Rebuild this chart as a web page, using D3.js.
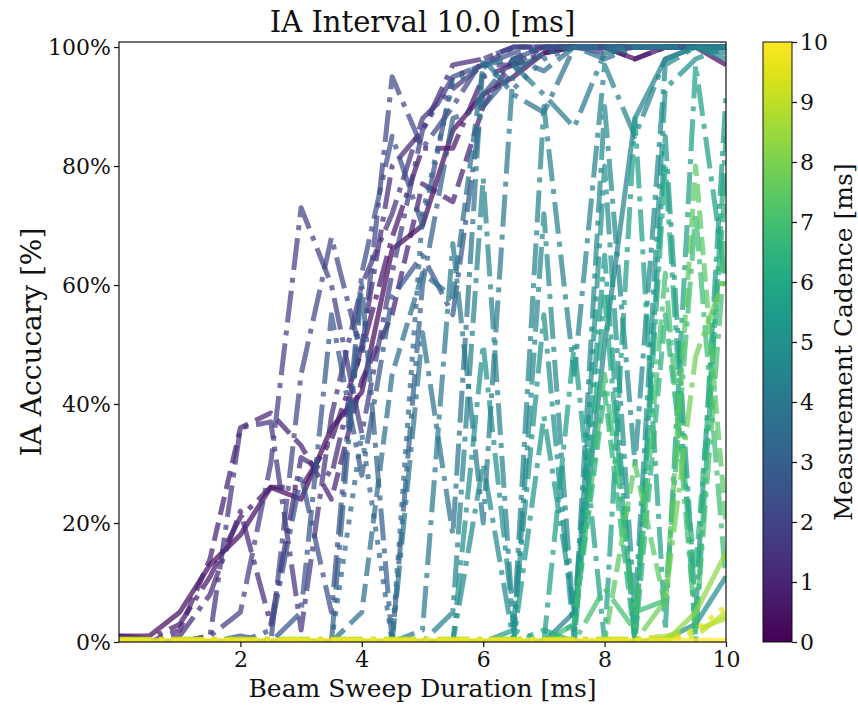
<!DOCTYPE html>
<html>
<head>
<meta charset="utf-8">
<script src="https://cdn.jsdelivr.net/npm/d3@7"></script>
<style>
  body { margin: 0; background: #fff; }
  text { font-family: "DejaVu Serif", serif; fill: #111; }
</style>
</head>
<body>
<div id="chart"></div>
<script>
// beam sweep duration grid [ms]
var beamSweep = [0, 0.5, 1, 1.5, 2, 2.5, 3, 3.5, 4, 4.5, 5, 5.5, 6, 6.5, 7, 7.5, 8, 8.5, 9, 9.5, 10];

// measurement cadence of each run [ms] (colour) and its line style
var cadence   = [0.3, 0.6, 0.9, 1.2, 1.5, 1.8, 2.1, 2.4, 2.7, 3.0, 3.3, 3.6, 3.8, 4.1, 4.4, 4.5, 4.7, 4.9, 5.0, 5.3, 5.6, 6.0, 6.4, 6.8, 7.0, 7.4, 7.8, 8.3, 8.8, 9.0, 9.5, 10];
var lineStyle = ["-", "-.", "--", "-.", "-.", "-.", "-.", "-.", "-.", "-.", ":", "--", "-.", "-.", "-.", "-", "-.", "-", "-.", "-.", "-.", "-.", "--", "-.", "-.", "--", "-.", "-", "-.", "-.", ":", "-"];

// IA accuracy (0..1), one row per run, values along beamSweep
var accuracy = [
  [0.01, 0.01, 0.05, 0.13, 0.18, 0.26, 0.24, 0.36, 0.42, 0.66, 0.70, 0.86, 0.92, 0.95, 0.99, 1.00, 1.00, 0.98, 1.00, 1.00, 0.97],
  [0.01, 0.005, 0.03, 0.11, 0.21, 0.26, 0.26, 0.34, 0.49, 0.68, 0.83, 0.83, 0.95, 0.97, 0.99, 1.00, 1.00, 1.00, 1.00, 1.00, 1.00],
  [0, 0, 0.02, 0.14, 0.36, 0.385, 0.33, 0.24, 0.44, 0.55, 0.77, 0.74, 0.90, 0.98, 1.00, 1.00, 1.00, 0.98, 1.00, 1.00, 1.00],
  [0, 0, 0.01, 0.08, 0.22, 0.03, 0.31, 0.28, 0.50, 0.80, 0.86, 0.97, 0.98, 1.00, 1.00, 1.00, 1.00, 1.00, 1.00, 1.00, 1.00],
  [0, 0, 0, 0.01, 0.36, 0.37, 0.02, 0.38, 0.60, 0.72, 0.88, 0.93, 0.97, 0.97, 1.00, 1.00, 1.00, 1.00, 1.00, 1.00, 1.00],
  [0, 0, 0, 0.01, 0.05, 0.30, 0.73, 0.60, 0.35, 0.62, 0.86, 0.95, 0.97, 1.00, 1.00, 1.00, 0.99, 1.00, 1.00, 1.00, 1.00],
  [0, 0, 0, 0, 0.01, 0.00, 0.45, 0.68, 0.48, 0.95, 0.83, 0.90, 0.98, 1.00, 1.00, 1.00, 1.00, 1.00, 1.00, 1.00, 1.00],
  [0, 0, 0, 0, 0, 0.02, 0.28, 0.05, 0.62, 0.85, 0.70, 0.95, 0.97, 0.99, 1.00, 1.00, 1.00, 1.00, 1.00, 1.00, 1.00],
  [0, 0, 0, 0, 0, 0, 0.05, 0.55, 0.28, 0.58, 0.65, 0.55, 0.92, 0.98, 1.00, 1.00, 1.00, 1.00, 1.00, 1.00, 1.00],
  [0, 0, 0, 0, 0, 0, 0, 0.00, 0.60, 0.00, 0.60, 0.88, 0.90, 0.96, 0.99, 1.00, 1.00, 1.00, 1.00, 1.00, 1.00],
  [0, 0, 0, 0, 0, 0, 0, 0, 0.35, 0.00, 0.72, 0.94, 0.97, 0.93, 0.98, 1.00, 1.00, 1.00, 1.00, 1.00, 1.00],
  [0, 0, 0, 0, 0, 0, 0, 0, 0.05, 0.45, 0.62, 0.58, 0.97, 0.98, 0.96, 1.00, 1.00, 1.00, 1.00, 1.00, 1.00],
  [0, 0, 0, 0, 0, 0, 0, 0, 0, 0.00, 0.52, 0.18, 0.98, 0.92, 0.89, 1.00, 0.98, 1.00, 1.00, 1.00, 0.99],
  [0, 0, 0, 0, 0, 0, 0, 0, 0, 0, 0.02, 0.67, 0.20, 0.97, 0.92, 0.865, 0.99, 1.00, 1.00, 1.00, 1.00],
  [0, 0, 0, 0, 0, 0, 0, 0, 0, 0, 0.00, 0.05, 0.78, 0.02, 0.90, 0.45, 0.97, 0.85, 0.98, 1.00, 1.00],
  [0, 0, 0, 0, 0, 0, 0, 0, 0, 0, 0, 0, 0, 0, 0, 0.05, 0.50, 0.88, 0.98, 1.00, 0.99],
  [0, 0, 0, 0, 0, 0, 0, 0, 0, 0, 0, 0.00, 0.30, 0.00, 0.72, 0.02, 0.90, 0.30, 0.97, 1.00, 0.98],
  [0, 0, 0, 0, 0, 0, 0, 0, 0, 0, 0, 0, 0, 0, 0, 0, 0, 0, 0.005, 0.03, 0.11],
  [0, 0, 0, 0, 0, 0, 0, 0, 0, 0, 0, 0, 0.50, 0.03, 0.55, 0.00, 0.80, 0.05, 0.93, 0.98, 1.00],
  [0, 0, 0, 0, 0, 0, 0, 0, 0, 0, 0, 0, 0, 0.00, 0.38, 0.05, 0.65, 0.00, 0.85, 0.05, 0.92],
  [0, 0, 0, 0, 0, 0, 0, 0, 0, 0, 0, 0, 0, 0.02, 0.00, 0.50, 0.00, 0.88, 0.02, 0.97, 0.60],
  [0, 0, 0, 0, 0, 0, 0, 0, 0, 0, 0, 0, 0, 0, 0.02, 0.00, 0.58, 0.00, 0.80, 0.00, 0.85],
  [0, 0, 0, 0, 0, 0, 0, 0, 0, 0, 0, 0, 0, 0, 0, 0.03, 0.42, 0.00, 0.55, 0.12, 0.78],
  [0, 0, 0, 0, 0, 0, 0, 0, 0, 0, 0, 0, 0, 0, 0.00, 0.03, 0.45, 0.05, 0.07, 0.72, 0.10],
  [0, 0, 0, 0, 0, 0, 0, 0, 0, 0, 0, 0, 0, 0, 0, 0.00, 0.09, 0.02, 0.62, 0.02, 0.68],
  [0, 0, 0, 0, 0, 0, 0, 0, 0, 0, 0, 0, 0, 0, 0, 0, 0.00, 0.30, 0.06, 0.80, 0.20],
  [0, 0, 0, 0, 0, 0, 0, 0, 0, 0, 0, 0, 0, 0, 0, 0, 0, 0.00, 0.07, 0.48, 0.62],
  [0, 0, 0, 0, 0, 0, 0, 0, 0, 0, 0, 0, 0, 0, 0, 0, 0, 0, 0.00, 0.05, 0.15],
  [0.005, 0.005, 0.005, 0.005, 0.005, 0.005, 0.005, 0.005, 0.005, 0.005, 0.005, 0.005, 0.005, 0.005, 0.005, 0.005, 0.005, 0.005, 0.01, 0.02, 0.04],
  [0.004, 0.004, 0.004, 0.004, 0.004, 0.004, 0.004, 0.004, 0.004, 0.004, 0.004, 0.004, 0.004, 0.004, 0.004, 0.004, 0.004, 0.004, 0.005, 0.01, 0.05],
  [0, 0, 0, 0, 0, 0, 0, 0, 0, 0, 0, 0, 0, 0, 0, 0, 0, 0, 0.00, 0.02, 0.06],
  [0.003, 0.003, 0.003, 0.003, 0.003, 0.003, 0.003, 0.003, 0.003, 0.003, 0.003, 0.003, 0.003, 0.003, 0.003, 0.003, 0.003, 0.003, 0.003, 0.003, 0.003]
];

var xTicks = [2, 4, 6, 8, 10];
var yTicks = [0, 0.2, 0.4, 0.6, 0.8, 1.0];
var cTicks = [0, 1, 2, 3, 4, 5, 6, 7, 8, 9, 10];

/*
 * setup
 */
var W = 858, H = 708;
// plot box (window.top is reserved, so prefix everything)
var pLeft = 119, pRight = 726, pTop = 42, pBottom = 642;

var svg = d3.select("#chart").append("svg")
    .attr("width", W)
    .attr("height", H);

var xScale = d3.scaleLinear().domain([0, 10]).range([pLeft, pRight]);
var yScale = d3.scaleLinear().domain([0, 1.0085]).range([pBottom, pTop]);
var color = d3.scaleSequential(d3.interpolateViridis).domain([0, 10]);

// matplotlib dash patterns scaled by linewidth 5
var dashes = { "-": null, "--": "18.5,8", "-.": "32,8,5,8", ":": "5,8.25" };

svg.append("clipPath").attr("id", "clip")
  .append("rect")
    .attr("x", pLeft).attr("y", pTop - 3)
    .attr("width", pRight - pLeft).attr("height", pBottom - pTop + 3);

/*
 * lines
 */
var line = d3.line()
    .x(function(d, i) { return xScale(beamSweep[i]); })
    .y(function(d) { return yScale(d); });

svg.append("g")
    .attr("clip-path", "url(#clip)")
  .selectAll("path")
  .data(accuracy)
  .enter()
  .append("path")
    .attr("fill", "none")
    .attr("stroke", function(d, i) { return color(cadence[i]); })
    .attr("stroke-opacity", 0.72)
    .attr("stroke-width", 5)
    .attr("stroke-linejoin", "round")
    .attr("stroke-linecap", "butt")
    .attr("stroke-dasharray", function(d, i) { return dashes[lineStyle[i]]; })
    .attr("d", line);

/*
 * axes
 */
var xAxis = d3.axisBottom(xScale).tickValues(xTicks).tickSize(5).tickPadding(4)
    .tickFormat(d3.format("d"));
var yAxis = d3.axisLeft(yScale).tickValues(yTicks).tickSize(5).tickPadding(3)
    .tickFormat(d3.format(".0%"));

svg.append("g")
    .attr("transform", "translate(0," + pBottom + ")")
    .call(xAxis)
    .call(function(g) { g.select(".domain").remove(); });

svg.append("g")
    .attr("transform", "translate(" + pLeft + ",0)")
    .call(yAxis)
    .call(function(g) { g.select(".domain").remove(); });

svg.selectAll(".tick line").attr("stroke", "#111").attr("stroke-width", 1.2);
svg.selectAll(".tick text")
    .style("font-family", "DejaVu Serif")
    .style("font-size", "22px")
    .attr("fill", "#111");

// frame
svg.append("rect")
    .attr("x", pLeft).attr("y", pTop)
    .attr("width", pRight - pLeft).attr("height", pBottom - pTop)
    .attr("fill", "none")
    .attr("stroke", "#111")
    .attr("stroke-width", 1.2);

/*
 * labels
 */
svg.append("text")
    .attr("x", (pLeft + pRight) / 2)
    .attr("y", 32)
    .attr("text-anchor", "middle")
    .style("font-size", "29px")
    .text("IA Interval 10.0 [ms]");

svg.append("text")
    .attr("x", (pLeft + pRight) / 2)
    .attr("y", 697)
    .attr("text-anchor", "middle")
    .style("font-size", "25px")
    .text("Beam Sweep Duration [ms]");

svg.append("text")
    .attr("transform", "translate(41," + (pTop + pBottom) / 2 + ") rotate(-90)")
    .attr("text-anchor", "middle")
    .style("font-size", "28px")
    .text("IA Accucary [%]");

/*
 * colorbar
 */
var cbLeft = 763, cbWidth = 29;
var cScale = d3.scaleLinear().domain([0, 10]).range([pBottom, pTop]);

var grad = svg.append("defs").append("linearGradient")
    .attr("id", "viridis")
    .attr("x1", "0").attr("y1", "1").attr("x2", "0").attr("y2", "0");
d3.range(0, 1.0001, 0.05).forEach(function(t) {
  grad.append("stop")
      .attr("offset", t)
      .attr("stop-color", d3.interpolateViridis(t));
});

svg.append("rect")
    .attr("x", cbLeft).attr("y", pTop)
    .attr("width", cbWidth).attr("height", pBottom - pTop)
    .attr("fill", "url(#viridis)")
    .attr("stroke", "#111")
    .attr("stroke-width", 1);

var cAxis = d3.axisRight(cScale).tickValues(cTicks).tickSize(5).tickPadding(3);
svg.append("g")
    .attr("transform", "translate(" + (cbLeft + cbWidth) + ",0)")
    .call(cAxis)
    .call(function(g) { g.select(".domain").remove(); })
    .call(function(g) {
      g.selectAll("line").attr("stroke", "#111").attr("stroke-width", 1.2);
      g.selectAll("text").style("font-size", "22px").attr("fill", "#111");
    });

svg.append("text")
    .attr("transform", "translate(852," + (pTop + pBottom) / 2 + ") rotate(-90)")
    .attr("text-anchor", "middle")
    .style("font-size", "25px")
    .text("Measurement Cadence [ms]");
</script>
</body>
</html>
